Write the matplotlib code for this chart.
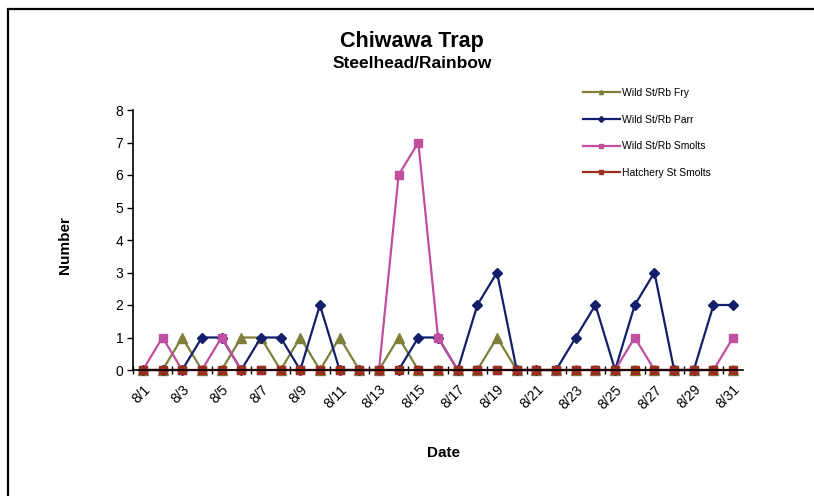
import numpy as np
import matplotlib
matplotlib.use('Agg')
import matplotlib.pyplot as plt
from matplotlib.patches import Rectangle
from matplotlib.lines import Line2D

plt.rcParams['font.family'] = ['Liberation Sans', 'DejaVu Sans']

# data, one value per day in August
dates = ['8/%d' % d for d in range(1, 32)]
wild_fry = [0, 0, 1, 0, 0, 1, 1, 0, 1, 0, 1, 0, 0, 1, 0, 0, 0, 0, 1, 0,
            0, 0, 0, 0, 0, 0, 0, 0, 0, 0, 0]
wild_parr = [0, 0, 0, 1, 1, 0, 1, 1, 0, 2, 0, 0, 0, 0, 1, 1, 0, 2, 3, 0,
             0, 0, 1, 2, 0, 2, 3, 0, 0, 2, 2]
wild_smolts = [0, 1, 0, 0, 1, 0, 0, 0, 0, 0, 0, 0, 0, 6, 7, 1, 0, 0, 0, 0,
               0, 0, 0, 0, 0, 1, 0, 0, 0, 0, 1]
hatchery_smolts = [0] * 31

series = [
    ('Wild St/Rb Fry', wild_fry, '#7f7f3b', '^', 7),
    ('Wild St/Rb Parr', wild_parr, '#131f6a', 'D', 5.5),
    ('Wild St/Rb Smolts', wild_smolts, '#c24ea0', 's', 6),
    ('Hatchery St Smolts', hatchery_smolts, '#98301e', 's', 6),
]

W, H = 814, 496
fig = plt.figure(figsize=(W / 100, H / 100), dpi=100)

# chart border (only top and left edges fall inside the picture)
fig.patches.append(Rectangle((8 / W, -0.05), 1.2, 1 - 9 / H + 0.05,
                             transform=fig.transFigure, fill=False,
                             edgecolor='black', linewidth=1.6))

ax = fig.add_axes([133 / W, 1 - 370 / H, (743 - 133) / W, 260 / H])
x = np.arange(len(dates))
handles = []
for label, vals, color, marker, ms in series:
    ax.plot(x, vals, color=color, lw=1.6, marker=marker, ms=ms,
            markeredgecolor=color, clip_on=False)
    handles.append(Line2D([], [], color=color, lw=1.6, marker=marker,
                          ms=3, markeredgecolor=color, label=label))

ax.set_xlim(-0.5, len(dates) - 0.5)
ax.set_ylim(0, 8)
ax.set_yticks(range(0, 9))
ax.tick_params(axis='y', direction='out', length=4, width=1, labelsize=10, pad=3)

ax.set_xticks(x[::2])
ax.set_xticklabels(dates[::2], rotation=45, ha='right', rotation_mode='anchor',
                   fontsize=10)
ax.set_xticks(np.arange(-0.5, len(dates), 2), minor=True)
ax.tick_params(axis='x', which='major', length=0, pad=9)
ax.tick_params(axis='x', which='minor', direction='inout', length=6, width=1)

for s in ['top', 'right']:
    ax.spines[s].set_visible(False)
for s in ['left', 'bottom']:
    ax.spines[s].set_linewidth(1.2)

fig.text(412 / W, 1 - 42 / H, 'Chiwawa Trap', ha='center', va='center',
         fontsize=15.5, fontweight='bold')
fig.text(412 / W, 1 - 63 / H, 'Steelhead/Rainbow', ha='center', va='center',
         fontsize=12.5, fontweight='bold')
fig.text(65 / W, 1 - 245 / H, 'Number', ha='center', va='center',
         rotation=90, fontsize=11, fontweight='bold')
fig.text(443 / W, 1 - 453 / H, 'Date', ha='center', va='center',
         fontsize=11, fontweight='bold')

fig.legend(handles=handles, loc='upper left',
           bbox_to_anchor=(583 / W, 1 - 88 / H), frameon=False,
           fontsize=7.5, handlelength=3.55, handletextpad=0.2,
           labelspacing=1.6, borderpad=0, borderaxespad=0)

fig.savefig('out.png', dpi=100)
